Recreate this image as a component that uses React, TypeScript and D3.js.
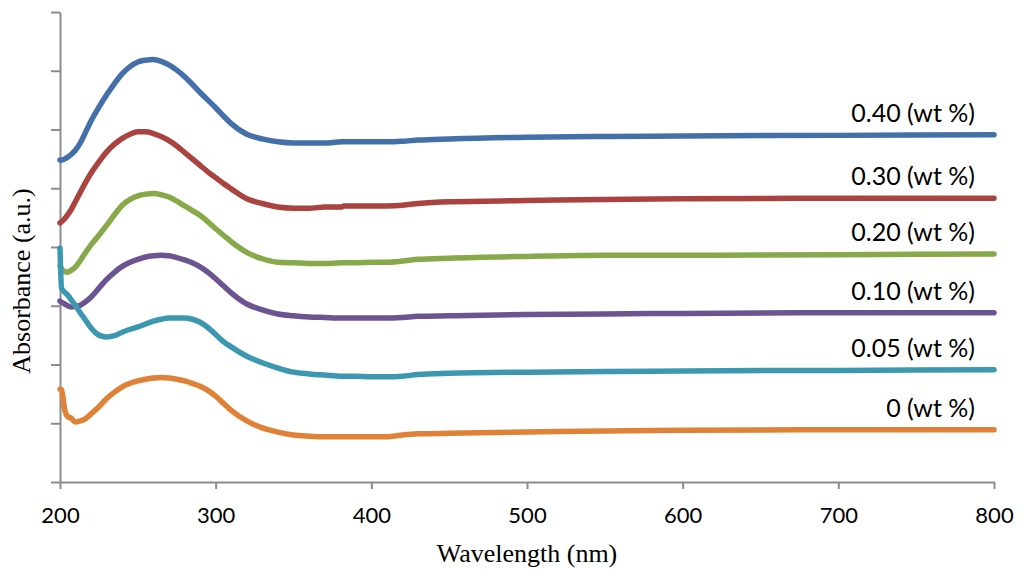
import * as d3 from 'd3';
import React, { useEffect, useRef } from 'react';

// wavelength grid (nm), shared by every spectrum
const wavelengths = [200, 201, 203, 205, 207, 210, 213, 216, 220, 225, 230, 235, 240, 245, 250, 255, 260, 265, 270, 275,
    280, 285, 290, 295, 300, 305, 310, 320, 330, 340, 350, 360, 370, 381, 382, 390, 400, 410, 420, 430, 450, 500,
    550, 600, 700, 800];

const wt040 = [5.48, 5.48, 5.50, 5.53, 5.57, 5.65, 5.77, 5.93, 6.15, 6.38, 6.59, 6.78, 6.95, 7.07, 7.15, 7.18, 7.19, 7.16,
    7.10, 7.01, 6.90, 6.77, 6.63, 6.50, 6.37, 6.23, 6.10, 5.92, 5.84, 5.79, 5.77, 5.77, 5.77, 5.79, 5.79, 5.79, 5.79,
    5.79, 5.80, 5.82, 5.84, 5.87, 5.88, 5.89, 5.90, 5.91];
const wt030 = [4.41, 4.43, 4.48, 4.55, 4.63, 4.78, 4.93, 5.08, 5.26, 5.45, 5.62, 5.75, 5.85, 5.92, 5.96, 5.96, 5.93, 5.88,
    5.81, 5.72, 5.61, 5.50, 5.39, 5.28, 5.18, 5.08, 4.99, 4.82, 4.74, 4.68, 4.66, 4.66, 4.68, 4.68, 4.70, 4.70, 4.70,
    4.70, 4.71, 4.74, 4.77, 4.79, 4.81, 4.82, 4.83, 4.83];
const wt020 = [3.68, 3.63, 3.58, 3.57, 3.60, 3.66, 3.77, 3.89, 4.04, 4.20, 4.37, 4.55, 4.71, 4.81, 4.87, 4.90, 4.91, 4.89,
    4.85, 4.78, 4.70, 4.62, 4.54, 4.43, 4.31, 4.20, 4.09, 3.91, 3.80, 3.74, 3.73, 3.72, 3.72, 3.73, 3.73, 3.73, 3.74,
    3.74, 3.76, 3.79, 3.81, 3.84, 3.86, 3.86, 3.87, 3.88];
const wt010 = [3.08, 3.06, 3.03, 3.00, 2.98, 2.99, 3.01, 3.06, 3.15, 3.30, 3.45, 3.57, 3.67, 3.74, 3.79, 3.83, 3.85, 3.86,
    3.85, 3.82, 3.78, 3.73, 3.66, 3.57, 3.46, 3.34, 3.22, 3.03, 2.93, 2.86, 2.83, 2.81, 2.80, 2.79, 2.79, 2.79, 2.79,
    2.79, 2.80, 2.82, 2.83, 2.85, 2.86, 2.87, 2.88, 2.88];
const wt005 = [3.98, 3.30, 3.23, 3.18, 3.11, 3.00, 2.88, 2.77, 2.62, 2.50, 2.47, 2.49, 2.55, 2.60, 2.64, 2.69, 2.74, 2.77,
    2.79, 2.79, 2.79, 2.77, 2.72, 2.63, 2.51, 2.39, 2.30, 2.14, 2.03, 1.94, 1.87, 1.84, 1.82, 1.80, 1.80, 1.80, 1.79,
    1.79, 1.80, 1.83, 1.85, 1.87, 1.88, 1.89, 1.90, 1.91];
const wt000 = [1.58, 1.57, 1.23, 1.11, 1.09, 1.02, 1.04, 1.07, 1.16, 1.28, 1.42, 1.53, 1.62, 1.68, 1.72, 1.75, 1.77, 1.78,
    1.77, 1.75, 1.72, 1.68, 1.63, 1.56, 1.46, 1.34, 1.22, 1.04, 0.92, 0.85, 0.80, 0.78, 0.77, 0.77, 0.77, 0.77, 0.77,
    0.77, 0.80, 0.82, 0.83, 0.85, 0.87, 0.88, 0.89, 0.89];

const seriesNames = ['0.40 (wt %)', '0.30 (wt %)', '0.20 (wt %)', '0.10 (wt %)', '0.05 (wt %)', '0 (wt %)'];
const seriesValues = [wt040, wt030, wt020, wt010, wt005, wt000];
const colors = ['#4470aa', '#aa423f', '#87a94a', '#6c5493', '#3c98b1', '#df8238'];

const xTicks = [200, 300, 400, 500, 600, 700, 800];
const yTicks = [0, 1, 2, 3, 4, 5, 6, 7, 8];

export default () => {
    const ref = useRef<any>();

    useEffect(() => {
        const svg = d3.select<any, any>(ref.current);
        svg.selectAll('*').remove();

        const left = 60, right = 994, top = 12, bottom = 482;
        const axisColor = '#8c8c8c';

        const xScale = d3.scaleLinear().domain([200, 800]).range([left, right]);
        const yScale = d3.scaleLinear().domain([0, 8]).range([bottom, top]);

        // y axis, no labels
        const yAxis = svg.append('g').attr('transform', `translate(${left},0)`)
            .call(d3.axisLeft(yScale).tickValues(yTicks).tickSize(9).tickFormat(() => '').tickSizeOuter(0));
        yAxis.selectAll('path, line').attr('stroke', axisColor).attr('stroke-width', 2);

        // x axis
        const xAxis = svg.append('g').attr('transform', `translate(0,${bottom})`)
            .call(d3.axisBottom(xScale).tickValues(xTicks).tickSize(7).tickPadding(18).tickSizeOuter(0));
        xAxis.selectAll('path, line').attr('stroke', axisColor).attr('stroke-width', 2);
        xAxis.selectAll('text')
            .attr('fill', '#000')
            .style('font-family', 'Lato, sans-serif')
            .style('font-size', '22px');

        const line = d3.line<number>()
            .x((d, i) => xScale(wavelengths[i]))
            .y(d => yScale(d))
            .curve(d3.curveMonotoneX);

        svg.append('g').selectAll('path')
            .data(seriesValues)
            .join('path')
            .attr('d', d => line(d))
            .attr('fill', 'none')
            .attr('stroke', (d, i) => colors[i])
            .attr('stroke-width', 5.5)
            .attr('stroke-linecap', 'round')
            .attr('stroke-linejoin', 'round');

        svg.append('g').selectAll('text')
            .data(seriesValues)
            .join('text')
            .attr('x', xScale(800) - 19)
            .attr('y', d => yScale(d[d.length - 1]) - 13)
            .attr('text-anchor', 'end')
            .style('font-family', 'Lato, sans-serif')
            .style('font-size', '25px')
            .text((d, i) => seriesNames[i]);

        svg.append('text')
            .attr('x', (left + right) / 2)
            .attr('y', 562)
            .attr('text-anchor', 'middle')
            .style('font-family', '"Liberation Serif", "Times New Roman", serif')
            .style('font-size', '26px')
            .text('Wavelength (nm)');

        svg.append('text')
            .attr('transform', 'translate(30,281) rotate(-90)')
            .attr('text-anchor', 'middle')
            .style('font-family', '"Liberation Serif", "Times New Roman", serif')
            .style('font-size', '26px')
            .text('Absorbance (a.u.)');
    });

    return (
        <svg ref={ref} width={1024} height={578}
            style={{ position: 'absolute', left: 0, top: 0, background: '#fff' }} />
    );
}
